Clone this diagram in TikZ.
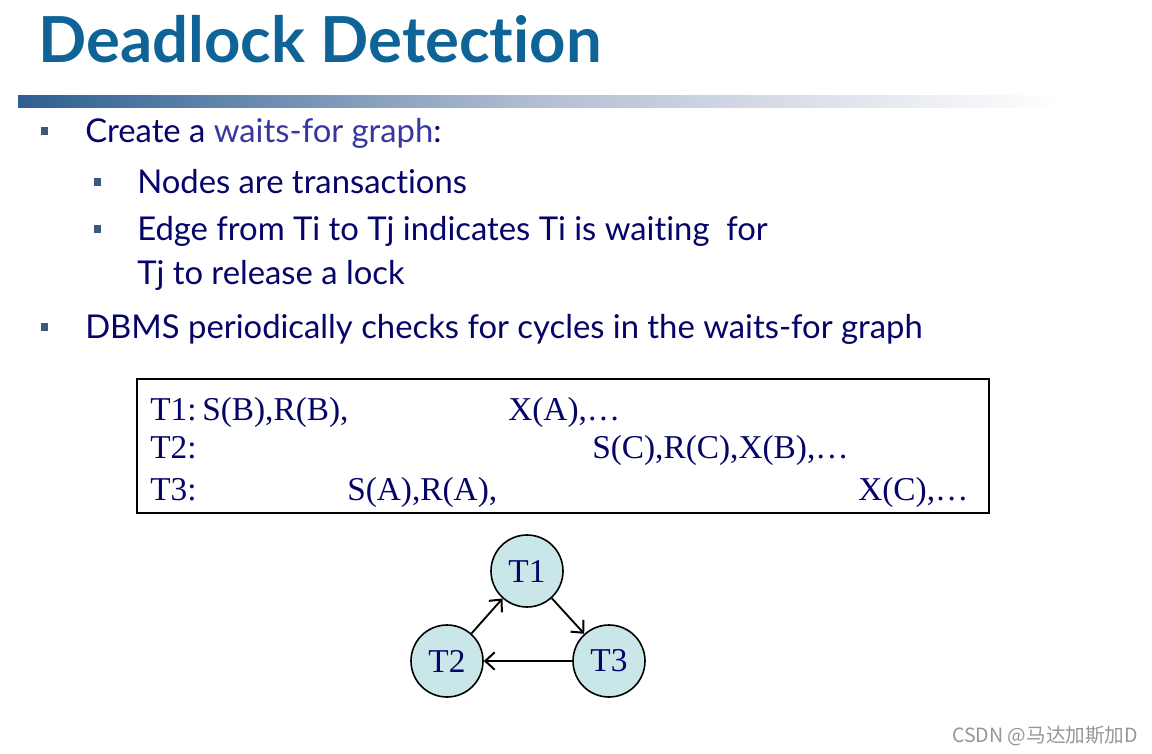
\documentclass[tikz,border=0pt]{standalone}
\usepackage{fontspec}
\setmainfont{Liberation Serif}
\newfontfamily\gill[Ligatures=NoCommon]{Lato}
\newfontfamily\cjk{Noto Sans CJK SC}
\usetikzlibrary{arrows.meta}
\definecolor{titleblue}{RGB}{14,99,151}
\definecolor{navy}{RGB}{5,5,105}
\definecolor{wfg}{RGB}{55,55,160}
\definecolor{bulletc}{RGB}{60,90,120}
\definecolor{cfill}{RGB}{201,230,232}
\definecolor{wmark}{RGB}{150,150,150}
\definecolor{barL}{RGB}{45,95,145}
\definecolor{barM}{RGB}{180,190,210}
\tikzset{
  txt/.style={inner sep=0pt, anchor=base west},
  body/.style={txt, font=\gill\fontsize{24.6}{29}\selectfont, text=navy},
  sched/.style={txt, font=\fontsize{25}{29}\selectfont, text=navy},
  bul/.style={fill=bulletc, draw=none, minimum size=5.5pt, inner sep=0pt},
  tnode/.style={circle, draw=black, line width=1.2pt, fill=cfill, minimum size=54pt, inner sep=0pt, font=\fontsize{25}{29}\selectfont, text=navy},
  arr/.style={-{Straight Barb[length=7pt,width=13pt,line width=1.5pt]}, line width=1.4pt, black}
}
\begin{document}
\begin{tikzpicture}[x=0.75pt,y=-0.75pt]
\useasboundingbox (0,0) rectangle (1152,753);
% title
\node[txt, font=\gill\bfseries\fontsize{47.6}{54}\selectfont, text=titleblue] (title) at (38,62) {Deadlock Detection};
% gradient bar
\shade[left color=barL, right color=barM, draw=none] (18,95) rectangle (540,107);
\shade[left color=barM, right color=white, draw=none] (540,95) rectangle (1060,107);
% bullets
\node[bul] (b1) at (44.5,131) {};
\node[bul] (b2) at (97.5,182) {};
\node[bul] (b3) at (97.5,229) {};
\node[bul] (b4) at (44.5,327) {};
\node[body] (l1) at (85,142) {Create a \textcolor{wfg}{waits-for graph}:};
\node[body] (l2) at (137,193) {Nodes are transactions};
\node[body] (l3) at (137,240) {Edge from Ti to Tj indicates Ti is waiting\ \ for};
\node[body] (l4) at (137,284) {Tj to release a lock};
\node[body] (l5) at (85,338) {DBMS periodically checks for cycles in the waits-for graph};
% schedule box
\draw[line width=1.2pt] (137,379) rectangle (989,513);
\node[sched] (r1a) at (150,420) {T1:};
\node[sched] (r1b) at (202,420) {S(B),R(B),};
\node[sched] (r1c) at (508,420) {X(A),\ldots};
\node[sched] (r2a) at (150,458) {T2:};
\node[sched] (r2b) at (592,458) {S(C),R(C),X(B),\ldots};
\node[sched] (r3a) at (150,500) {T3:};
\node[sched] (r3b) at (347,500) {S(A),R(A),};
\node[sched] (r3c) at (858,500) {X(C),\ldots};
% graph
\node[tnode] (T1) at (527,571) {T1};
\node[tnode] (T2) at (447,661) {T2};
\node[tnode] (T3) at (609,661) {T3};
\draw[arr] (T2) -- (T1);
\draw[arr] (T1) -- (T3);
\draw[arr] (T3) -- (T2);
% watermark
\node[txt, font=\cjk\fontsize{14.7}{17}\selectfont, text=wmark] (wm) at (952,742) {CSDN @马达加斯加D};
\end{tikzpicture}
\end{document}
